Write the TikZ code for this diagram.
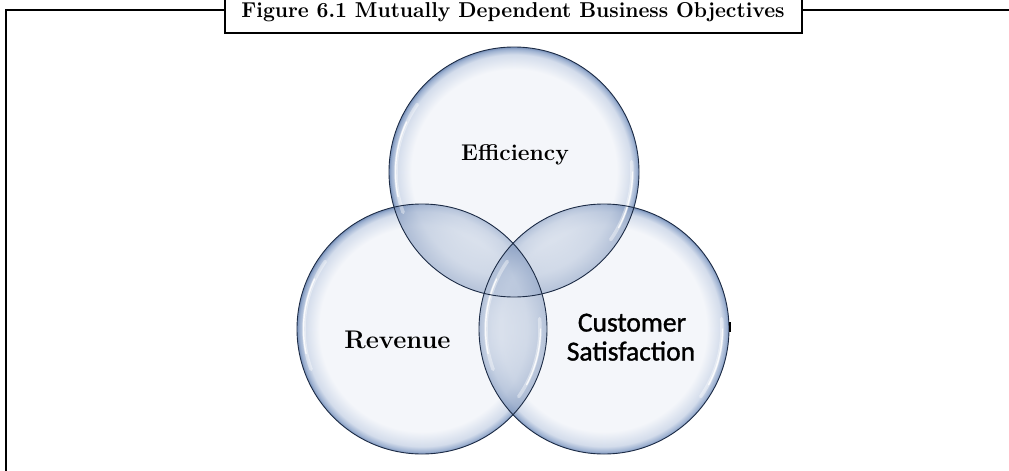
\documentclass[tikz,border=0pt]{standalone}
\usepackage{fontspec}
\usepackage{graphicx}
\newfontfamily\calib[FakeBold=1.2]{Carlito}
\definecolor{cin}{HTML}{F4F6FA}
\definecolor{cmid}{HTML}{D3DCEB}
\definecolor{crim}{HTML}{9CB0D0}
\definecolor{cedge}{HTML}{7790B9}
\definecolor{lin}{HTML}{E6EBF3}
\definecolor{lmid}{HTML}{BCC9DE}
\definecolor{ledge}{HTML}{7F96BD}
\definecolor{outl}{HTML}{1C2B45}
\pgfdeclareradialshading{glass}{\pgfpoint{0bp}{0bp}}{color(0bp)=(cin); color(20.5bp)=(cin); color(23.5bp)=(cmid); color(24.6bp)=(crim); color(25bp)=(cedge); color(50bp)=(cedge)}
\pgfdeclareradialshading{lensglass}{\pgfpoint{0bp}{0bp}}{color(0bp)=(lin); color(14bp)=(lin); color(21bp)=(lmid); color(25bp)=(ledge); color(50bp)=(ledge)}
\tikzset{
  frameline/.style={line width=2.6pt, draw=black},
  bubble/.style={circle, minimum size=250pt, inner sep=0pt, outer sep=0pt, shading=glass},
  lens/.style={shading=lensglass, fill opacity=0.5},
  rim/.style={draw=outl, line width=0.9pt},
  hlwide/.style={draw=white, line width=3.5pt, draw opacity=0.4, line cap=round},
  hlthin/.style={draw=white, line width=1.4pt, draw opacity=0.85, line cap=round},
  serlabel/.style={anchor=base, inner sep=0pt},
  sanslabel/.style={anchor=base, inner sep=0pt, font=\calib\fontsize{27.5}{32}\selectfont},
}
\begin{document}
\begin{tikzpicture}[x=1pt,y=-1pt]
\useasboundingbox (0,0) rectangle (1009,471);
% frame
\draw[frameline] (6,471) -- (6,10) -- (1012,10);
\node[draw=black, line width=2.6pt, fill=white, minimum width=577pt, minimum height=50pt, inner sep=0pt] (titlebox) at (513.5,8) {};
\node[anchor=base, inner sep=0pt] (titletext) at (513,17) {\resizebox{543pt}{15pt}{\bfseries Figure 6.1 Mutually Dependent Business Objectives}};
% bubbles
\node[bubble] (eff) at (514,172) {};
\node[bubble] (rev) at (422,329) {};
\node[bubble] (cus) at (604,329) {};
% overlap shading
\foreach \a/\b in {eff/rev,rev/eff,eff/cus,cus/eff,rev/cus,cus/rev}{
  \begin{scope}
    \clip (\a.center) circle[radius=125];
    \shade[lens] (\b.center) circle[radius=125];
  \end{scope}
}
% highlights
\foreach \c in {eff,rev,cus}{
  \draw[hlwide] (\c.center) ++(160:118) arc[start angle=160, end angle=215, radius=118];
  \draw[hlthin] (\c.center) ++(168:118.5) arc[start angle=168, end angle=205, radius=118.5];
  \draw[hlwide] (\c.center) ++(-5:118) arc[start angle=-5, end angle=35, radius=118];
  \draw[hlthin] (\c.center) ++(0:118.5) arc[start angle=0, end angle=28, radius=118.5];
}
% outlines
\draw[rim] (eff.center) circle[radius=125];
\draw[rim] (rev.center) circle[radius=125];
\draw[rim] (cus.center) circle[radius=125];
% small mark
\coordinate (mk1) at (730,322);
\coordinate (mk2) at (730,332);
\draw[line width=2.5pt, black] (mk1) -- (mk2);
% labels
\node[serlabel, font=\bfseries\fontsize{22.8}{26}\selectfont] (efftext) at (515,160) {Efficiency};
\node[serlabel, font=\bfseries\fontsize{25.5}{30}\selectfont] (revtext) at (397.5,348) {Revenue};
\node[sanslabel] (custext1) at (632,331.5) {Customer};
\node[sanslabel] (custext2) at (631,360.5) {Satisfaction};
\end{tikzpicture}
\end{document}
